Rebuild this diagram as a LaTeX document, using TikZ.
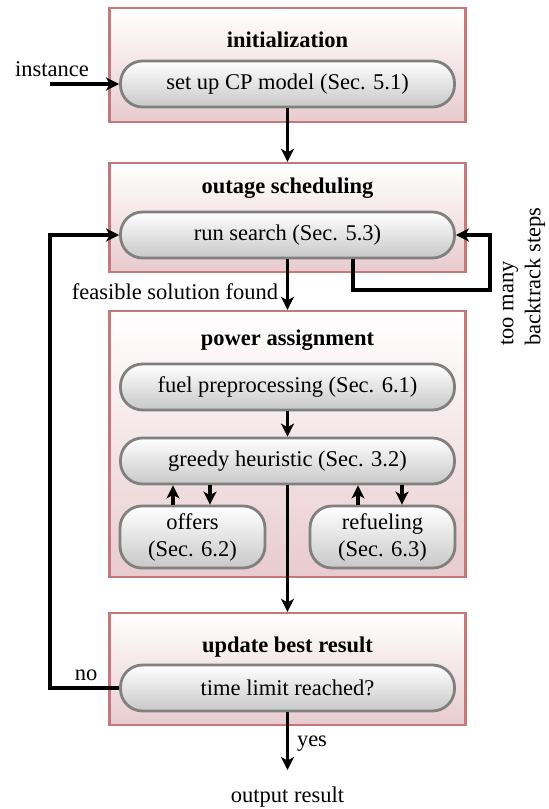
\documentclass[tikz,border=0pt]{standalone}
\usepackage{fontspec}
\setmainfont{Liberation Serif}
\usetikzlibrary{arrows.meta}
\definecolor{boxred}{RGB}{196,120,122}
\definecolor{boxpink}{RGB}{232,203,206}
\definecolor{nodegray}{RGB}{128,128,128}
\definecolor{nodebot}{RGB}{200,200,200}
\begin{document}
\begin{tikzpicture}[x=0.5pt,y=-0.5pt,
  every node/.style={font=\fontsize{11.25}{13.5}\selectfont},
  outer/.style={draw=boxred, line width=1.2pt, top color=white, bottom color=boxpink, minimum width=178pt, inner sep=0pt},
  inner/.style={draw=nodegray, line width=1.4pt, top color=white, bottom color=nodebot, rounded corners=11pt, minimum width=167pt, minimum height=23pt, inner sep=0pt},
  small/.style={inner, minimum width=72.5pt, minimum height=31pt, align=center},
  title/.style={font=\fontsize{11.25}{13.5}\selectfont\bfseries},
  arr/.style={line width=1.6pt, -{Stealth[length=6.5pt,width=6.5pt,inset=1.8pt]}},
  ln/.style={line width=1.6pt}]
\useasboundingbox (0,0) rectangle (549,809);
% outer boxes
\node[outer, minimum height=57pt] (initbox) at (287.5,65) {};
\node[outer, minimum height=54.5pt] (outbox) at (287.5,217.5) {};
\node[outer, minimum height=133pt] (powbox) at (287.5,444) {};
\node[outer, minimum height=56pt] (updbox) at (287.5,669) {};
% titles
\node[title] (t1) at (287.5,40) {initialization};
\node[title] (t2) at (287.5,188) {outage scheduling};
\node[title] (t3) at (287.5,340) {power assignment};
\node[title] (t4) at (287.5,647) {update best result};
% inner nodes
\node[inner] (setup) at (287.5,84) {set up CP model (Sec. 5.1)};
\node[inner] (run) at (287.5,235) {run search (Sec. 5.3)};
\node[inner] (fuel) at (287.5,387) {fuel preprocessing (Sec. 6.1)};
\node[inner] (greedy) at (287.5,461) {greedy heuristic (Sec. 3.2)};
\node[small] (offers) at (192.5,537) {offers\\(Sec. 6.2)};
\node[small] (refuel) at (382.5,537) {refueling\\(Sec. 6.3)};
\node[inner] (time) at (287.5,688) {time limit reached?};
% labels
\node (instance) at (52,69) {instance};
\node (feas) at (175,292) {feasible solution found};
\node[rotate=90, align=left] (bt) at (523,276.5) {too many\\backtrack steps};
\node (no) at (86,675) {no};
\node (yes) at (312,744) {yes};
\node (out) at (287.5,797) {output result};
% coordinates
\coordinate (inst) at (50,84);
\coordinate (btc) at (490,290);
\coordinate (nl) at (50,235);
\coordinate (outend) at (287.5,770);
\coordinate (xa) at (173,0);
\coordinate (xb) at (210,0);
\coordinate (xc) at (358,0);
\coordinate (xd) at (402,0);
\coordinate (xe) at (353,0);
% connectors
\draw[arr] (inst) -- (setup.west);
\draw[arr] (setup.south) -- (outbox.north);
\draw[arr] (run.south) -- (powbox.north);
\draw[arr] (run.south -| xe) |- (btc) |- (run.east);
\draw[arr] (fuel.south) -- (greedy.north);
\draw[arr] (greedy.south) -- (updbox.north);
\draw[arr] (offers.north -| xa) -- (greedy.south -| xa);
\draw[arr] (greedy.south -| xb) -- (offers.north -| xb);
\draw[arr] (refuel.north -| xc) -- (greedy.south -| xc);
\draw[arr] (greedy.south -| xd) -- (refuel.north -| xd);
\draw[arr] (time.west) -| (nl) -- (run.west);
\draw[arr] (time.south) -- (outend);
\end{tikzpicture}
\end{document}
